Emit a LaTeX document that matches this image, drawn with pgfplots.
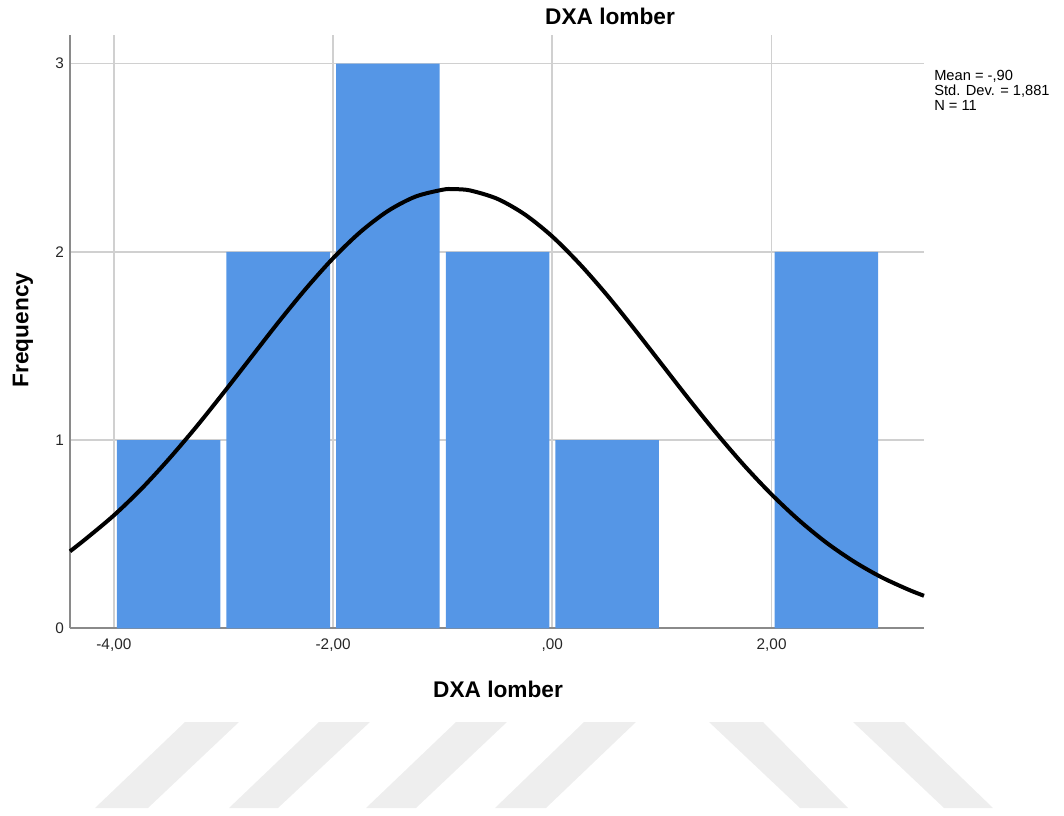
\documentclass[border=0pt]{standalone}
\usepackage{fontspec}
\setmainfont{Liberation Sans}
\usepackage{pgfplots}
\pgfplotsset{compat=1.18}
\definecolor{barblue}{HTML}{5596E6}
\definecolor{gridgray}{HTML}{D0D0D0}
\definecolor{axisgray}{HTML}{8A8A8A}
\definecolor{wm}{HTML}{EEEEEE}
\begin{document}
\begin{tikzpicture}[x=0.75pt,y=0.75pt]
\useasboundingbox (0,0) rectangle (1064,815);
% watermark stripes
\fill[wm] (185,93)--(239,93)--(148,7)--(95,7)--cycle;
\fill[wm] (319,93)--(370,93)--(278,7)--(229,7)--cycle;
\fill[wm] (456,93)--(507,93)--(416,7)--(366,7)--cycle;
\fill[wm] (584,93)--(636,93)--(546,7)--(495,7)--cycle;
\fill[wm] (709,93)--(763,93)--(848,7)--(800,7)--cycle;
\fill[wm] (853,93)--(904,93)--(993,7)--(944,7)--cycle;
\begin{axis}[
  at={(52.5pt,140.0pt)}, anchor=south west,
  scale only axis, width=640.5pt, height=444.75pt,
  xmin=-4.40, xmax=3.39, ymin=0, ymax=3.15,
  axis x line*=bottom, axis y line*=left,
  axis line style={draw=axisgray, line width=1.4pt, -},
  xtick={-4,-2,0,2}, xticklabels={{-4,00},{-2,00},{,00},{2,00}},
  ytick={0,1,2,3}, yticklabels={0,1,2,3},
  major tick length=0pt,
  grid=major, major grid style={draw=gridgray, line width=1.3pt},
  tick label style={font=\fontsize{11.5}{13}\selectfont, text=black!85},
  xticklabel style={yshift=-4pt},
  yticklabel style={xshift=-1pt},
  clip=false,
]
\addplot[ybar, bar width=0.945, bar shift=0pt, fill=barblue, draw=none] coordinates {
  (-3.5,1) (-2.5,2) (-1.5,3) (-0.5,2) (0.5,1) (2.5,2)
};
\addplot[black, line width=3pt, smooth, no marks] coordinates {
  (-4.40,0.409) (-4.25,0.478) (-4.00,0.600) (-3.75,0.740) (-3.50,0.898)
  (-3.25,1.069) (-3.00,1.251) (-2.75,1.438) (-2.50,1.625) (-2.25,1.803)
  (-2.00,1.966) (-1.75,2.106) (-1.50,2.217) (-1.25,2.293) (-1.00,2.330)
  (-0.90,2.333) (-0.75,2.326) (-0.50,2.281) (-0.25,2.198) (0.00,2.081)
  (0.25,1.935) (0.50,1.769) (0.75,1.588) (1.00,1.401) (1.25,1.214)
  (1.50,1.034) (1.75,0.865) (2.00,0.711) (2.25,0.574) (2.50,0.455)
  (2.75,0.355) (3.00,0.272) (3.25,0.205) (3.39,0.173)
};
\end{axis}
\node[font=\bfseries\fontsize{17}{20}\selectfont] at (610,799) {DXA lomber};
\node[font=\bfseries\fontsize{17}{20}\selectfont] at (498,126) {DXA lomber};
\node[font=\bfseries\fontsize{17}{20}\selectfont, rotate=90] at (23,485) {Frequency};
\node[anchor=north west, align=left, inner sep=0pt, font=\fontsize{11}{11.2}\selectfont] at (934,745) {Mean = -,90\\Std. Dev. = 1,881\\N = 11};
\end{tikzpicture}
\end{document}
